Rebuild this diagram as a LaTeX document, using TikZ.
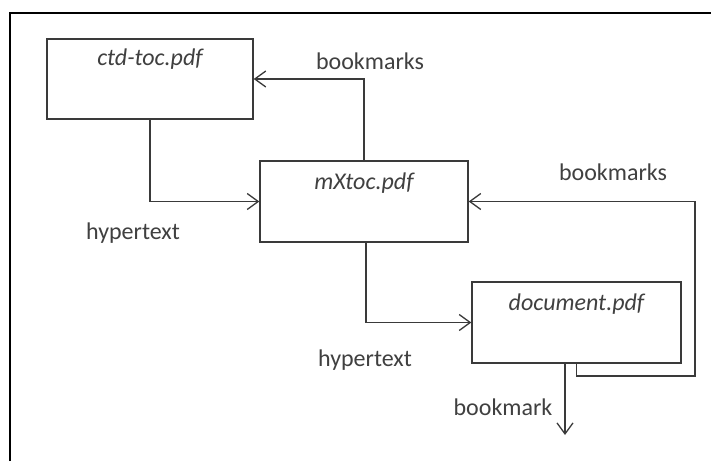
\documentclass[tikz,border=0pt]{standalone}
\usepackage{fontspec}
\setmainfont{Carlito}
\usetikzlibrary{arrows.meta}
\definecolor{ink}{HTML}{3A3A3A}
\definecolor{txt}{HTML}{404040}
\tikzset{
  doc/.style={draw=ink, line width=1.4pt, rectangle, minimum height=81pt, inner sep=0pt},
  ttl/.style={font=\fontsize{24}{28}\selectfont\itshape, text=txt},
  lbl/.style={font=\fontsize{24}{28}\selectfont, text=txt, inner sep=0pt},
  conn/.style={draw=ink, line width=1.3pt, -{Straight Barb[length=11pt,width=16pt,line width=1.3pt]}},
  plainline/.style={draw=ink, line width=1.3pt}
}
\begin{document}
\begin{tikzpicture}[x=1pt,y=-1pt]
\useasboundingbox (0,0) rectangle (711,461);
\fill[white] (0,0) rectangle (711,461);
\draw[black, line width=2.2pt] (10,461) -- (10,13) -- (711,13);
\node[doc, minimum width=206pt, minimum height=80pt] (ctd) at (150,79) {};
\node[ttl] at ([yshift=-21pt]ctd.north) {ctd-toc.pdf};
\node[doc, minimum width=208pt] (mx) at (364,201.5) {};
\node[ttl] at ([yshift=-23pt]mx.north) {mXtoc.pdf};
\node[doc, minimum width=209pt] (dc) at (576.5,322.5) {};
\node[ttl] at ([yshift=-23pt]dc.north) {document.pdf};
\coordinate (fb) at (695,376);
\coordinate (bm) at (565,435);
\draw[conn] (ctd.south) |- (mx.west);
\draw[conn] (mx.north) |- (ctd.east);
\draw[conn] ([xshift=2pt]mx.south) |- (dc.west);
\draw[conn] (dc.south) |- (fb) |- (mx.east);
\draw[conn] ([xshift=-11.5pt]dc.south) -- (bm);
\node[lbl] (l1) at (370,61) {bookmarks};
\node[lbl] (l2) at (613,172) {bookmarks};
\node[lbl] (l3) at (133,233) {hypertext};
\node[lbl] (l4) at (365,360) {hypertext};
\node[lbl] (l5) at (503,407) {bookmark};
\end{tikzpicture}
\end{document}
